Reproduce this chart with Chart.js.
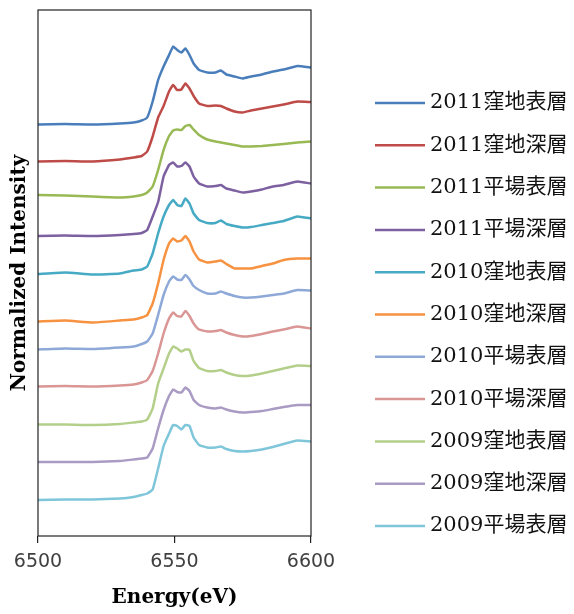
<!DOCTYPE html>
<html>
<head>
<meta charset="utf-8">
<script src="https://cdn.jsdelivr.net/npm/chart.js@4.4.0/dist/chart.umd.min.js"></script>
<style>
  html, body { margin: 0; padding: 0; background: #fff; }
  #wrap { width: 574px; height: 614px; }
</style>
</head>
<body>
<div id="wrap"><canvas id="xanes"></canvas></div>
<script>
// energies (eV) shared by all spectra
const energy = [6500, 6510, 6520, 6530, 6535, 6538, 6540, 6542, 6544, 6546, 6548, 6549.5, 6551, 6552.5, 6554,
                6555.5, 6557, 6559, 6562, 6565, 6567, 6569, 6572, 6575, 6578, 6582, 6586, 6590, 6595, 6600];

const seriesNames = ['2011窪地表層', '2011窪地深層', '2011平場表層', '2011平場深層', '2010窪地表層', '2010窪地深層',
                     '2010平場表層', '2010平場深層', '2009窪地表層', '2009窪地深層', '2009平場表層'];

const seriesColors = ['#4A7EBB', '#BE4B48', '#98B954', '#7D60A0', '#46AAC5', '#F69240',
                      '#8EA9D8', '#D99694', '#B3CF8A', '#A99BC4', '#7FC6DB'];

// normalized intensity, stacked with offsets as in the figure
const s2011KubochiHyo = [8.23, 8.24, 8.23, 8.25, 8.27, 8.31, 8.37, 8.69, 9.12, 9.39, 9.62, 9.79, 9.72, 9.67, 9.75,
                         9.62, 9.45, 9.32, 9.27, 9.27, 9.31, 9.23, 9.19, 9.15, 9.19, 9.23, 9.29, 9.33, 9.40, 9.37];
const s2011KubochiShin = [7.49, 7.50, 7.49, 7.53, 7.57, 7.60, 7.69, 7.99, 8.37, 8.60, 8.89, 9.02, 8.92, 8.93, 9.05,
                          8.95, 8.80, 8.65, 8.60, 8.61, 8.60, 8.55, 8.49, 8.47, 8.51, 8.55, 8.59, 8.63, 8.69, 8.68];
const s2011HirabaHyo = [6.82, 6.81, 6.79, 6.77, 6.79, 6.82, 6.87, 6.99, 7.32, 7.72, 8.00, 8.11, 8.13, 8.12, 8.20,
                        8.22, 8.13, 8.02, 7.93, 7.89, 7.87, 7.85, 7.82, 7.79, 7.79, 7.80, 7.82, 7.84, 7.87, 7.89];
const s2011HirabaShin = [6.00, 6.01, 6.00, 6.02, 6.04, 6.06, 6.12, 6.39, 6.68, 7.19, 7.42, 7.47, 7.39, 7.40, 7.47,
                         7.39, 7.19, 7.05, 6.99, 7.00, 7.02, 6.95, 6.91, 6.87, 6.89, 6.93, 6.99, 7.02, 7.09, 7.05];
const s2010KubochiHyo = [5.24, 5.27, 5.23, 5.25, 5.31, 5.33, 5.39, 5.65, 6.05, 6.39, 6.62, 6.72, 6.62, 6.60, 6.75,
                         6.65, 6.45, 6.32, 6.26, 6.26, 6.31, 6.24, 6.20, 6.17, 6.18, 6.22, 6.26, 6.30, 6.39, 6.35];
const s2010KubochiShin = [4.29, 4.31, 4.27, 4.31, 4.33, 4.37, 4.42, 4.65, 5.05, 5.52, 5.85, 5.95, 5.89, 5.91, 6.00,
                          5.89, 5.69, 5.53, 5.47, 5.49, 5.51, 5.44, 5.35, 5.35, 5.35, 5.40, 5.45, 5.52, 5.55, 5.55];
const s2010HirabaHyo = [3.73, 3.75, 3.74, 3.77, 3.79, 3.84, 3.89, 4.05, 4.42, 4.82, 5.09, 5.19, 5.13, 5.12, 5.22,
                        5.13, 5.00, 4.92, 4.85, 4.85, 4.89, 4.85, 4.80, 4.77, 4.77, 4.79, 4.82, 4.85, 4.92, 4.91];
const s2010HirabaShin = [2.99, 3.00, 2.99, 3.01, 3.03, 3.07, 3.12, 3.30, 3.65, 4.05, 4.35, 4.47, 4.40, 4.39, 4.50,
                         4.40, 4.25, 4.13, 4.09, 4.10, 4.12, 4.07, 4.02, 3.99, 4.00, 4.04, 4.09, 4.13, 4.19, 4.15];
const s2009KubochiHyo = [2.23, 2.23, 2.22, 2.24, 2.27, 2.29, 2.33, 2.55, 3.05, 3.35, 3.65, 3.79, 3.75, 3.69, 3.73,
                         3.72, 3.50, 3.36, 3.30, 3.30, 3.32, 3.27, 3.22, 3.20, 3.21, 3.25, 3.30, 3.35, 3.41, 3.40];
const s2009KubochiShin = [1.48, 1.48, 1.48, 1.50, 1.53, 1.55, 1.57, 1.75, 2.15, 2.52, 2.80, 2.93, 2.88, 2.87, 2.97,
                          2.90, 2.72, 2.62, 2.57, 2.55, 2.57, 2.53, 2.49, 2.47, 2.48, 2.50, 2.54, 2.58, 2.62, 2.62];
const s2009HirabaHyo = [0.72, 0.73, 0.73, 0.75, 0.78, 0.82, 0.85, 0.93, 1.35, 1.80, 2.05, 2.22, 2.20, 2.13, 2.22,
                        2.20, 1.97, 1.82, 1.77, 1.77, 1.79, 1.74, 1.70, 1.69, 1.70, 1.73, 1.78, 1.84, 1.91, 1.89];

const allSeries = [s2011KubochiHyo, s2011KubochiShin, s2011HirabaHyo, s2011HirabaShin, s2010KubochiHyo, s2010KubochiShin,
                   s2010HirabaHyo, s2010HirabaShin, s2009KubochiHyo, s2009KubochiShin, s2009HirabaHyo];

const xTicks = [6500, 6550, 6600];

const datasets = allSeries.map((vals, i) => ({
    label: seriesNames[i],
    data: vals.map((v, j) => ({ x: energy[j], y: v })),
    borderColor: seriesColors[i],
    backgroundColor: seriesColors[i],
    borderWidth: 2.5,
    pointRadius: 0,
    tension: 0.12,
    fill: false
}));

// frame round the plot + legend on the right
const frameAndLegend = {
    id: 'frameAndLegend',
    afterDraw(chart) {
        const { ctx, chartArea: a } = chart;
        ctx.save();
        ctx.strokeStyle = '#222';
        ctx.lineWidth = 1.2;
        ctx.strokeRect(a.left, a.top, a.right - a.left, a.bottom - a.top);

        ctx.font = '21px "DejaVu Serif", "Noto Sans CJK JP"';
        ctx.fillStyle = '#111';
        ctx.textBaseline = 'middle';
        chart.data.datasets.forEach((ds, i) => {
            const y = 103 + i * 42.3;
            ctx.strokeStyle = ds.borderColor;
            ctx.lineWidth = 2.5;
            ctx.beginPath();
            ctx.moveTo(375, y);
            ctx.lineTo(425, y);
            ctx.stroke();
            ctx.fillText(ds.label, 430, y);
        });
        ctx.restore();
    }
};

new Chart(document.getElementById('xanes'), {
    type: 'line',
    data: { datasets },
    plugins: [frameAndLegend],
    options: {
        responsive: true,
        maintainAspectRatio: false,
        animation: false,
        layout: { padding: { top: 10, right: 263, left: 0, bottom: 0 } },
        plugins: { legend: { display: false }, tooltip: { enabled: false } },
        scales: {
            x: {
                type: 'linear',
                min: 6500,
                max: 6600,
                afterBuildTicks: (s) => { s.ticks = xTicks.map(v => ({ value: v })); },
                afterFit: (s) => { s.height = 78; },
                grid: { drawOnChartArea: false, drawTicks: true, tickLength: 7, color: '#222', lineWidth: 1.2 },
                border: { display: false },
                ticks: {
                    color: '#404040',
                    font: { family: '"DejaVu Sans"', size: 19 },
                    padding: 8,
                    maxRotation: 0,
                    callback: (v) => String(v)
                },
                title: {
                    display: true,
                    text: 'Energy(eV)',
                    color: '#000',
                    font: { family: '"DejaVu Serif"', size: 20, weight: 'bold' },
                    padding: { top: 0, bottom: 4 }
                }
            },
            y: {
                min: 0,
                max: 10.52,
                afterFit: (s) => { s.width = 38; },
                grid: { display: false },
                border: { display: false },
                ticks: { display: false },
                title: {
                    display: true,
                    text: 'Normalized Intensity',
                    color: '#000',
                    font: { family: '"DejaVu Serif"', size: 20, weight: 'bold' },
                    padding: { top: 8, bottom: 0 }
                }
            }
        }
    }
});
</script>
</body>
</html>
